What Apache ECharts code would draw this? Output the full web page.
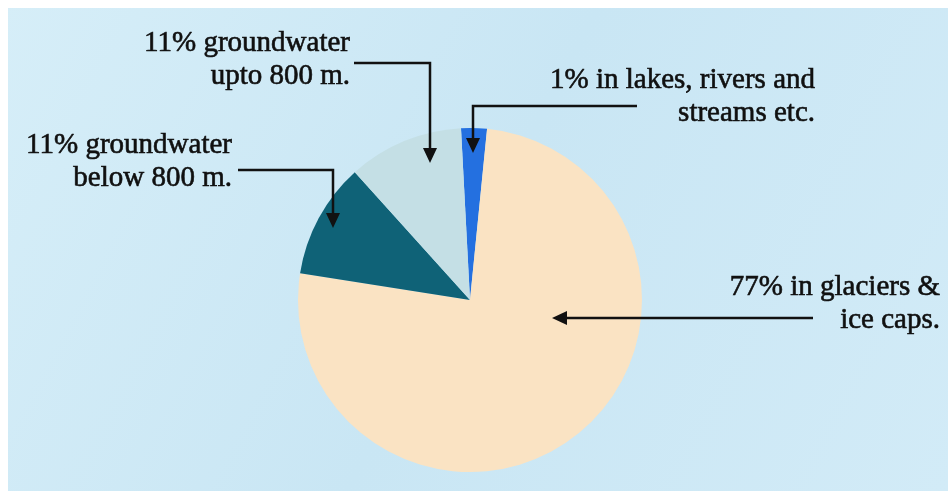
<!DOCTYPE html>
<html>
<head>
<meta charset="utf-8">
<script src="https://cdn.jsdelivr.net/npm/echarts@6/dist/echarts.min.js"></script>
<style>
html,body{margin:0;padding:0;background:#ffffff;}
#chart{width:948px;height:491px;}
</style>
</head>
<body>
<div id="chart"></div>
<script>
// Data (percent of fresh water)
var categories = ['1% in lakes, rivers and\nstreams etc.', '77% in glaciers &\nice caps.', '11% groundwater\nbelow 800 m.', '11% groundwater\nupto 800 m.'];
var values = [1, 77, 11, 11];
var sliceColors = ['#2470e0', '#fae3c3', '#0f6277', '#c4dfe5'];

var chart = echarts.init(document.getElementById('chart'), null, {renderer: 'canvas'});

var FONT = '"Liberation Serif", "DejaVu Serif", serif';
function label(text, x, y) {
  return {
    type: 'text', x: x, y: y, z: 10,
    style: {
      text: text, fill: '#101010', font: '29px ' + FONT,
      stroke: '#101010', lineWidth: 0.6,
      align: 'right', verticalAlign: 'top', lineHeight: 33
    }
  };
}
function line(points) {
  return { type: 'polyline', z: 10, shape: { points: points },
    style: { stroke: '#111111', lineWidth: 2.5, fill: null } };
}
function arrowDown(x, y) {
  return { type: 'polygon', z: 10, shape: { points: [[x - 7, y - 15], [x + 7, y - 15], [x, y]] },
    style: { fill: '#111111' } };
}
function arrowLeft(x, y) {
  return { type: 'polygon', z: 10, shape: { points: [[x + 15, y - 7], [x + 15, y + 7], [x, y]] },
    style: { fill: '#111111' } };
}

var option = {
  animation: false,
  backgroundColor: {
    type: 'linear', x: 0, y: 0, x2: 1, y2: 1,
    colorStops: [
      {offset: 0, color: '#d6eef8'},
      {offset: 0.5, color: '#c9e6f4'},
      {offset: 1, color: '#d2ebf7'}
    ]
  },
  graphic: [
    // white scan margins
    { type: 'rect', z: 20, shape: {x: 0, y: 0, width: 948, height: 8}, style: {fill: '#ffffff'} },
    { type: 'rect', z: 20, shape: {x: 0, y: 0, width: 8, height: 491}, style: {fill: '#ffffff'} },
    label(categories[3], 350, 27),
    line([[354, 63], [430, 63], [430, 150]]),
    arrowDown(430, 163),
    label(categories[2], 232, 129),
    line([[238, 170], [333, 170], [333, 215]]),
    arrowDown(333, 228),
    label(categories[0], 815, 64),
    line([[637, 106], [473, 106], [473, 140]]),
    arrowDown(473, 153),
    label(categories[1], 940, 271),
    line([[813, 318], [565, 318]]),
    arrowLeft(552, 318)
  ],
  series: [{
    type: 'pie',
    center: [470, 300],
    radius: 172,
    startAngle: 93,
    clockwise: true,
    minAngle: 8.7,
    avoidLabelOverlap: false,
    label: { show: false },
    labelLine: { show: false },
    emphasis: { disabled: true },
    itemStyle: { borderWidth: 0 },
    data: categories.map(function (c, i) {
      return { name: c, value: values[i], itemStyle: { color: sliceColors[i] } };
    })
  }]
};
chart.setOption(option);
</script>
</body>
</html>
